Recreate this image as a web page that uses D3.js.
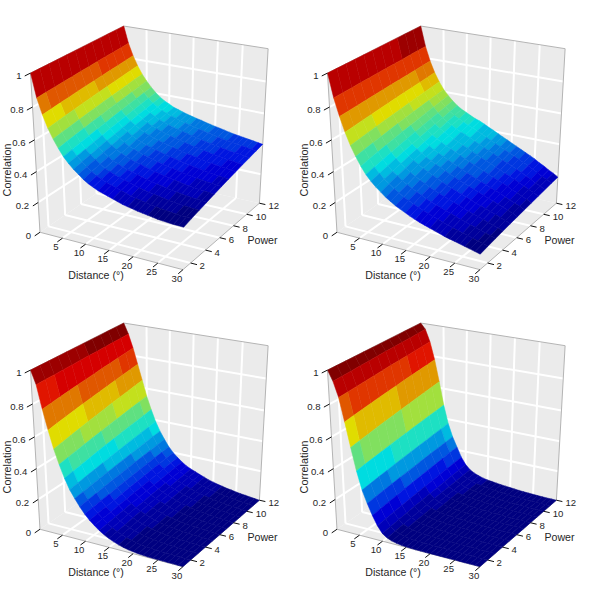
<!DOCTYPE html>
<html><head><meta charset="utf-8"><style>html,body{margin:0;background:#fff}svg{display:block}text{font-family:"Liberation Sans",Arial,sans-serif;fill:#262626}</style>
<script src="https://cdn.jsdelivr.net/npm/d3@7/dist/d3.min.js"></script></head><body><svg id="c" width="595" height="595"></svg>
<script>
const distances=[0,1,2,3,4,5,6,7,8,9,10,11,12,13,14,15,16,17,18,19,20,21,22,23,24,25,26,27,28,29,30];
const powers=[1,2,3,4,5,6,7,8,9,10,11,12];
const distTicks=[5,10,15,20,25,30], powTicks=[2,4,6,8,10,12], corTicks=[0,0.2,0.4,0.6,0.8,1];
const panelA=[
[1,.86,.765,.69,.63,.58,.535,.50,.47,.445,.42,.40,.385,.37,.36,.35,.34,.33,.32,.313,.307,.30,.295,.29,.285,.28,.277,.274,.272,.271,.27],
[1,.864,.771,.698,.639,.59,.546,.512,.482,.458,.434,.414,.40,.385,.375,.366,.356,.346,.337,.33,.323,.317,.311,.306,.301,.296,.293,.29,.287,.286,.284],
[1,.867,.777,.705,.647,.599,.556,.522,.493,.469,.446,.427,.413,.399,.389,.38,.37,.361,.352,.345,.338,.332,.326,.321,.315,.31,.307,.304,.301,.299,.297],
[1,.871,.782,.712,.655,.608,.566,.533,.504,.481,.459,.44,.427,.413,.403,.394,.385,.376,.367,.36,.353,.347,.341,.335,.33,.325,.321,.318,.315,.313,.31],
[1,.874,.788,.719,.663,.617,.576,.543,.515,.492,.471,.453,.44,.427,.417,.409,.399,.391,.382,.375,.368,.362,.356,.35,.344,.339,.336,.332,.329,.326,.323],
[1,.878,.793,.725,.67,.625,.585,.553,.525,.503,.483,.465,.453,.44,.43,.422,.413,.404,.395,.388,.382,.375,.369,.363,.358,.353,.349,.345,.341,.338,.335],
[1,.881,.797,.731,.677,.633,.594,.562,.535,.513,.494,.477,.465,.453,.443,.434,.426,.417,.409,.402,.395,.389,.382,.376,.371,.366,.361,.357,.353,.35,.347],
[1,.884,.802,.738,.684,.641,.603,.571,.545,.523,.505,.488,.477,.465,.455,.447,.439,.431,.422,.415,.408,.402,.396,.389,.384,.379,.374,.37,.366,.362,.358],
[1,.887,.807,.743,.691,.648,.611,.58,.554,.532,.515,.499,.488,.476,.466,.459,.45,.442,.434,.427,.42,.414,.407,.401,.395,.39,.386,.381,.377,.373,.369],
[1,.889,.811,.749,.697,.656,.619,.588,.562,.542,.525,.509,.498,.488,.478,.47,.462,.454,.446,.439,.432,.426,.419,.413,.407,.402,.397,.392,.388,.384,.379],
[1,.892,.816,.754,.704,.663,.627,.597,.571,.551,.535,.52,.509,.499,.489,.482,.473,.466,.458,.451,.444,.438,.431,.424,.418,.413,.409,.404,.399,.394,.39],
[1,.895,.82,.76,.71,.67,.635,.605,.58,.56,.545,.53,.52,.51,.50,.493,.485,.478,.47,.463,.456,.45,.443,.436,.43,.425,.42,.415,.41,.405,.40]];
const panelB=[
[1,.86,.755,.665,.59,.53,.475,.43,.395,.365,.34,.315,.295,.275,.26,.245,.23,.217,.205,.195,.185,.175,.165,.155,.147,.14,.132,.124,.116,.108,.10],
[1,.862,.758,.671,.598,.539,.487,.443,.409,.38,.357,.333,.313,.294,.279,.264,.249,.236,.224,.213,.203,.192,.182,.171,.162,.154,.145,.136,.127,.118,.109],
[1,.863,.761,.676,.605,.548,.497,.455,.422,.394,.372,.349,.33,.312,.297,.282,.267,.253,.241,.23,.219,.208,.197,.185,.176,.167,.157,.147,.137,.127,.117],
[1,.865,.764,.681,.612,.556,.508,.467,.435,.408,.387,.365,.346,.329,.314,.299,.284,.271,.258,.246,.235,.223,.212,.20,.19,.18,.169,.158,.147,.137,.125],
[1,.866,.767,.686,.619,.565,.518,.479,.448,.422,.402,.381,.363,.347,.332,.317,.302,.288,.275,.263,.251,.239,.227,.214,.204,.193,.18,.17,.157,.146,.133],
[1,.868,.77,.69,.625,.573,.528,.49,.46,.435,.415,.395,.378,.363,.348,.333,.318,.304,.29,.278,.265,.253,.24,.228,.216,.205,.191,.18,.166,.154,.14],
[1,.869,.773,.695,.631,.58,.537,.501,.472,.448,.429,.409,.392,.378,.363,.348,.333,.319,.305,.292,.279,.266,.254,.241,.228,.217,.202,.189,.174,.162,.147],
[1,.87,.775,.699,.638,.588,.546,.512,.483,.46,.442,.424,.407,.394,.379,.364,.349,.335,.321,.307,.294,.28,.267,.254,.241,.228,.212,.199,.183,.171,.154],
[1,.871,.778,.703,.643,.595,.555,.521,.494,.471,.454,.437,.42,.408,.393,.378,.363,.348,.334,.32,.307,.293,.279,.265,.252,.239,.222,.208,.191,.178,.161],
[1,.873,.78,.707,.649,.601,.563,.531,.504,.483,.466,.449,.434,.422,.407,.392,.377,.362,.348,.334,.319,.305,.291,.277,.263,.249,.231,.217,.199,.185,.167],
[1,.874,.783,.711,.654,.608,.572,.54,.515,.494,.478,.462,.447,.436,.421,.406,.391,.376,.361,.347,.332,.318,.303,.288,.274,.26,.241,.226,.207,.193,.174],
[1,.875,.785,.715,.66,.615,.58,.55,.525,.505,.49,.475,.46,.45,.435,.42,.405,.39,.375,.36,.345,.33,.315,.30,.285,.27,.25,.235,.215,.20,.18]];
const panelC=[
[1,.92,.78,.66,.55,.46,.38,.315,.265,.22,.18,.147,.12,.095,.075,.058,.045,.033,.024,.017,.012,.008,.006,.004,.003,.002,.002,.001,.001,0,0],
[1,.922,.788,.67,.561,.47,.389,.323,.272,.227,.186,.153,.126,.101,.081,.064,.051,.039,.03,.022,.017,.012,.01,.007,.006,.004,.004,.002,.002,0,0],
[1,.923,.795,.679,.571,.479,.398,.331,.279,.233,.192,.158,.131,.106,.086,.069,.057,.044,.035,.027,.021,.016,.013,.01,.008,.006,.005,.003,.002,.001,0],
[1,.925,.802,.688,.581,.488,.406,.338,.285,.239,.197,.163,.136,.111,.091,.075,.062,.05,.04,.031,.025,.02,.016,.013,.01,.008,.006,.004,.003,.001,0],
[1,.926,.809,.697,.591,.497,.415,.346,.292,.245,.203,.169,.141,.117,.096,.08,.068,.055,.045,.036,.029,.024,.02,.015,.013,.01,.008,.006,.004,.002,0],
[1,.928,.815,.705,.60,.505,.423,.353,.298,.25,.208,.174,.146,.122,.101,.085,.073,.06,.05,.04,.033,.027,.023,.018,.015,.012,.009,.007,.005,.002,0],
[1,.929,.821,.713,.609,.513,.43,.359,.303,.255,.212,.178,.151,.126,.106,.09,.077,.065,.054,.044,.037,.03,.025,.021,.017,.013,.01,.007,.005,.002,0],
[1,.93,.828,.721,.618,.521,.438,.366,.309,.261,.217,.183,.155,.131,.11,.095,.082,.07,.059,.048,.041,.034,.028,.023,.019,.015,.012,.008,.006,.003,0],
[1,.931,.833,.728,.626,.528,.445,.372,.314,.266,.222,.187,.16,.135,.115,.099,.087,.074,.063,.052,.044,.037,.031,.025,.021,.016,.013,.009,.006,.003,0],
[1,.933,.839,.736,.634,.536,.451,.378,.32,.27,.226,.192,.164,.14,.119,.103,.091,.078,.067,.056,.047,.04,.034,.028,.023,.018,.014,.01,.007,.003,0],
[1,.934,.844,.743,.642,.543,.458,.384,.325,.275,.231,.196,.168,.144,.123,.108,.096,.083,.071,.059,.051,.043,.036,.03,.025,.019,.015,.011,.007,.004,0],
[1,.935,.85,.75,.65,.55,.465,.39,.33,.28,.235,.20,.172,.148,.127,.112,.10,.087,.075,.063,.054,.046,.039,.032,.027,.021,.016,.012,.008,.004,0]];
const panelD=[
[1,.94,.85,.71,.56,.42,.305,.225,.155,.095,.052,.03,.018,.01,.006,.003,.002,.001,.001,0,0,0,0,0,0,0,0,0,0,0,0],
[1,.943,.854,.718,.569,.428,.312,.232,.162,.102,.058,.036,.023,.014,.01,.006,.005,.004,.003,.002,.002,.001,.001,.001,.001,.001,0,0,0,0,0],
[1,.945,.858,.725,.577,.435,.319,.238,.169,.108,.064,.041,.027,.018,.013,.01,.008,.006,.005,.004,.003,.003,.002,.002,.001,.001,.001,0,0,0,0],
[1,.948,.862,.732,.585,.442,.325,.244,.175,.114,.07,.046,.032,.022,.017,.013,.011,.009,.008,.006,.005,.004,.003,.002,.002,.002,.001,.001,0,0,0],
[1,.95,.866,.739,.593,.449,.332,.25,.182,.12,.076,.05,.036,.026,.02,.016,.013,.011,.01,.008,.007,.005,.004,.003,.002,.002,.001,.001,0,0,0],
[1,.953,.87,.745,.60,.455,.338,.255,.188,.125,.081,.055,.04,.03,.023,.019,.016,.014,.011,.01,.008,.007,.005,.004,.003,.003,.002,.001,.001,.001,0],
[1,.955,.874,.751,.607,.461,.343,.26,.193,.13,.086,.06,.044,.034,.026,.021,.019,.016,.013,.011,.009,.008,.006,.005,.004,.003,.002,.001,.001,.001,0],
[1,.957,.877,.758,.614,.468,.349,.266,.199,.136,.091,.064,.048,.037,.029,.024,.021,.018,.015,.013,.011,.009,.007,.005,.004,.003,.002,.001,.001,.001,0],
[1,.959,.88,.763,.621,.473,.354,.271,.204,.141,.096,.068,.051,.04,.032,.027,.023,.02,.017,.014,.012,.01,.008,.006,.005,.004,.002,.002,.001,.001,0],
[1,.961,.884,.769,.627,.479,.36,.275,.21,.145,.101,.072,.055,.044,.035,.029,.026,.022,.019,.016,.013,.011,.008,.007,.005,.004,.003,.002,.001,.001,0],
[1,.963,.887,.774,.634,.484,.365,.28,.215,.15,.105,.076,.058,.047,.037,.032,.028,.024,.02,.017,.015,.012,.009,.007,.006,.005,.003,.002,.001,.001,0],
[1,.965,.89,.78,.64,.49,.37,.285,.22,.155,.11,.08,.062,.05,.04,.034,.03,.026,.022,.019,.016,.013,.01,.008,.006,.005,.003,.002,.001,.001,0]];
const panels=[[panelA,0,0],[panelB,297,0],[panelC,0,297],[panelD,297,297]];
const jetStops=["#000080","#0000e0","#00e0e0","#e0e000","#e00000","#800000"];
const nLevels=28;

const U=d3.scaleLinear().domain([0,30]).range([0,1]);
const V=d3.scaleLinear().domain([1,12]).range([0,1]);
const W=d3.scaleLinear().domain([0,1]).range([0,1]);
// calibration of the view: cube corner (u,v,w) -> screen
const calib=[[0,0,0,39.3,228.3],[0,0,1,30.7,74],[0,1,1,124,24],[1,1,1,267.7,50],[1,0,0,183.5,273],[1,1,0,259.3,199],[0,1,0,126,178]];
function solve(A,b){const n=b.length;const M=A.map((r,i)=>[...r,b[i]]);
 for(let i=0;i<n;i++){let p=i;for(let k=i+1;k<n;k++)if(Math.abs(M[k][i])>Math.abs(M[p][i]))p=k;[M[i],M[p]]=[M[p],M[i]];
  for(let k=i+1;k<n;k++){const f=M[k][i]/M[i][i];for(let j=i;j<=n;j++)M[k][j]-=f*M[i][j];}}
 const x=Array(n).fill(0);for(let i=n-1;i>=0;i--){let s=M[i][n];for(let j=i+1;j<n;j++)s-=M[i][j]*x[j];x[i]=s/M[i][i];}return x;}
const rows=[],rhs=[];
calib.forEach(([u,v,w,x,y])=>{rows.push([1,u,v,w,0,0,0,0,-x*u,-x*v,-x*w]);rhs.push(x);rows.push([0,0,0,0,1,u,v,w,-y*u,-y*v,-y*w]);rhs.push(y);});
const n=11,ATA=d3.range(n).map(i=>d3.range(n).map(j=>d3.sum(rows,r=>r[i]*r[j]))),ATb=d3.range(n).map(i=>d3.sum(rows,(r,k)=>r[i]*rhs[k]));
const h=solve(ATA,ATb);
function proj(u,v,w){const q=1+h[8]*u+h[9]*v+h[10]*w;return[(h[0]+h[1]*u+h[2]*v+h[3]*w)/q,(h[4]+h[5]*u+h[6]*v+h[7]*w)/q];}
const P=(d,p,z)=>proj(U(d),V(p),W(z));
const line=d3.line();
const jet=d3.scaleLinear().domain([0,1/8,3/8,5/8,7/8,1]).range(jetStops);
const svg=d3.select("#c");
const dMin=U.domain()[0],dMax=U.domain()[1],pMin=V.domain()[0],pMax=V.domain()[1];

panels.forEach(([table,dx,dy])=>{
 const g=svg.append("g").attr("transform",`translate(${dx},${dy})`);
 const poly=pts=>g.append("path").attr("d",line(pts)+"Z").attr("fill","#ebebeb");
 poly([P(dMin,pMin,0),P(dMin,pMin,1),P(dMin,pMax,1),P(dMin,pMax,0)]);
 poly([P(dMin,pMax,0),P(dMin,pMax,1),P(dMax,pMax,1),P(dMax,pMax,0)]);
 poly([P(dMin,pMin,0),P(dMin,pMax,0),P(dMax,pMax,0),P(dMax,pMin,0)]);
 const seg=(a,b,c="#fff",w=2)=>g.append("path").attr("d",line([a,b])).attr("stroke",c).attr("stroke-width",w).attr("fill","none");
 distTicks.filter(d=>d<dMax).forEach(d=>{seg(P(d,pMin,0),P(d,pMax,0));seg(P(d,pMax,0),P(d,pMax,1));});
 powTicks.filter(p=>p<pMax).forEach(p=>{seg(P(dMin,p,0),P(dMax,p,0));seg(P(dMin,p,0),P(dMin,p,1));});
 corTicks.filter(z=>z>0&&z<1).forEach(z=>{seg(P(dMin,pMin,z),P(dMin,pMax,z));seg(P(dMin,pMax,z),P(dMax,pMax,z));});
 const edge="#b4b4b4";
 [[[dMin,pMin,0],[dMin,pMin,1]],[[dMin,pMin,1],[dMin,pMax,1]],[[dMin,pMax,1],[dMax,pMax,1]],[[dMax,pMax,1],[dMax,pMax,0]],[[dMax,pMax,0],[dMax,pMin,0]],[[dMax,pMin,0],[dMin,pMin,0]]]
  .forEach(([a,b])=>seg(P(...a),P(...b),edge,1));
 // surface
 const zExt=d3.extent(table.flat());
 const color=d3.scaleQuantize().domain(zExt).range(d3.range(nLevels).map(i=>jet(i/(nLevels-1))));
 for(let j=powers.length-2;j>=0;j--)for(let i=0;i<distances.length-1;i++){
  const z=[table[j][i],table[j][i+1],table[j+1][i+1],table[j+1][i]],c=color(d3.mean(z));
  g.append("path").attr("d",line([P(distances[i],powers[j],z[0]),P(distances[i+1],powers[j],z[1]),P(distances[i+1],powers[j+1],z[2]),P(distances[i],powers[j+1],z[3])])+"Z")
   .attr("fill",c).attr("stroke",c).attr("stroke-width",.5).attr("stroke-linejoin","round");
 }
 // ticks & labels
 const tick=(a,b)=>seg(a,b,"#111",1);
 const txt=(x,y,s,anchor,size=9.6)=>g.append("text").attr("x",x).attr("y",y).attr("text-anchor",anchor).attr("font-size",size).text(s);
 const fmt=d3.format("~g");
 distTicks.forEach(d=>{const a=P(d,pMin,0),b=proj(U(d),-0.055,0),l=proj(U(d),-0.07,0);tick(a,b);txt(l[0],l[1]+7.2,fmt(d),"middle");});
 powTicks.forEach(p=>{const a=P(dMax,p,0),b=proj(1.042,V(p),0);tick(a,b);txt(a[0]+9,a[1]+5.8,fmt(p),"start");});
 corTicks.forEach(z=>{const a=P(dMin,pMin,z),b=proj(0,-0.055,W(z));tick(a,b);txt(a[0]-9,a[1]+6.4,fmt(z),"end");});
 txt(96,279,"Distance (°)","middle",10.6);
 txt(262.5,244,"Power","middle",10.6);
 g.append("text").attr("transform","translate(11,170) rotate(-90)").attr("text-anchor","middle").attr("font-size",10.8).text("Correlation");
});
</script></body></html>
